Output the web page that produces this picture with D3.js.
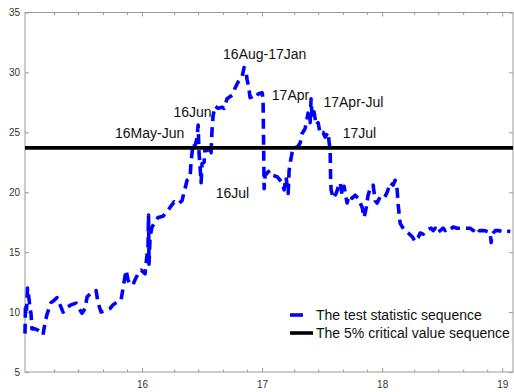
<!DOCTYPE html>
<html>
<head>
<meta charset="utf-8">
<script src="https://cdn.jsdelivr.net/npm/d3@7"></script>
<style>
  html, body { margin: 0; padding: 0; background: #fff; }
  svg { display: block; }
  text { font-family: "Liberation Sans", Arial, sans-serif; }
</style>
</head>
<body>
<svg id="chart" width="514" height="392"></svg>
<script>
// Time axis in decimal years (two-digit year, e.g. 16.5 = mid-2016)
const years = [
  15.025, 15.029, 15.038, 15.046, 15.054, 15.067, 15.075, 15.083, 15.108, 15.133,
  15.158, 15.175, 15.192, 15.208, 15.225, 15.242, 15.258, 15.292, 15.317, 15.342,
  15.375, 15.408, 15.450, 15.475, 15.500, 15.525, 15.542, 15.575, 15.617, 15.633,
  15.658, 15.683, 15.708, 15.733, 15.758, 15.800, 15.825, 15.842, 15.867, 15.883,
  15.900, 15.925, 15.942, 15.967, 15.992, 16.025, 16.050, 16.054, 16.058, 16.067,
  16.083, 16.108, 16.133, 16.175, 16.217, 16.267, 16.300, 16.333, 16.358, 16.375,
  16.400, 16.408, 16.425, 16.442, 16.458, 16.467, 16.475, 16.483, 16.492, 16.500,
  16.517, 16.525, 16.542, 16.550, 16.567, 16.575, 16.583, 16.592, 16.608, 16.633,
  16.667, 16.683, 16.708, 16.750, 16.775, 16.800, 16.833, 16.850, 16.867, 16.875,
  16.888, 16.900, 16.925, 16.950, 16.967, 17.000, 17.008, 17.017, 17.025, 17.050,
  17.067, 17.092, 17.125, 17.150, 17.167, 17.183, 17.200, 17.217, 17.225, 17.233,
  17.250, 17.267, 17.292, 17.317, 17.333, 17.358, 17.383, 17.400, 17.408, 17.417,
  17.433, 17.450, 17.467, 17.483, 17.508, 17.525, 17.550, 17.558, 17.567, 17.571,
  17.575, 17.592, 17.617, 17.633, 17.650, 17.667, 17.683, 17.708, 17.725, 17.750,
  17.775, 17.800, 17.833, 17.850, 17.867, 17.883, 17.900, 17.925, 17.942, 17.958,
  17.983, 18.017, 18.042, 18.067, 18.092, 18.108, 18.125, 18.133, 18.150, 18.175,
  18.192, 18.217, 18.250, 18.275, 18.300, 18.317, 18.342, 18.358, 18.383, 18.408,
  18.425, 18.442, 18.458, 18.483, 18.508, 18.525, 18.550, 18.567, 18.592, 18.625,
  18.667, 18.692, 18.733, 18.758, 18.783, 18.808, 18.850, 18.883, 18.900, 18.908,
  18.917, 18.942, 18.975, 19.000, 19.033, 19.067
];

// Test statistic sequence
const testStat = [
  8.2, 10.7, 10.2, 12.0, 11.5, 10.3, 9.9, 8.6, 8.6, 8.5,
  8.3, 8.1, 9.1, 9.8, 10.3, 10.8, 10.9, 11.2, 10.6, 10.0,
  10.4, 10.6, 10.75, 10.3, 9.9, 10.3, 11.25, 11.6, 11.8, 10.8,
  10.0, 10.1, 10.2, 10.3, 10.6, 10.9, 11.0, 12.0, 13.5, 12.7,
  12.3, 12.3, 12.7, 13.2, 13.5, 13.2, 15.6, 18.1, 14.0, 16.3,
  17.1, 17.5, 17.9, 18.0, 18.5, 19.2, 19.0, 19.3, 20.3, 21.0,
  21.2, 22.5, 24.1, 23.9, 24.5, 25.6, 23.25, 22.2, 20.8, 22.4,
  22.5, 23.7, 23.6, 23.3, 23.5, 23.3, 25.2, 26.4, 27.2, 27.0,
  27.1, 27.0, 27.8, 28.1, 28.7, 29.2, 29.6, 30.4, 30.0, 29.4,
  28.8, 27.9, 28.0, 27.9, 28.2, 28.3, 27.8, 20.3, 21.4, 21.7,
  21.8, 21.4, 21.3, 21.0, 20.75, 20.2, 21.25, 19.9, 21.8, 22.4,
  23.3, 23.75, 23.75, 24.1, 24.9, 25.3, 26.6, 25.8, 27.8, 26.2,
  26.7, 25.6, 25.8, 24.9, 25.0, 24.6, 25.0, 24.2, 23.5, 21.0,
  20.2, 19.5, 19.9, 20.4, 20.8, 19.75, 20.5, 19.1, 19.75, 19.5,
  19.75, 19.5, 18.75, 17.9, 18.7, 19.75, 20.3, 20.6, 19.3, 19.1,
  19.6, 19.5, 20.0, 20.8, 20.6, 21.0, 20.2, 19.0, 17.4, 17.0,
  16.8, 16.6, 16.3, 15.9, 16.2, 16.6, 16.5, 16.7, 16.9, 17.0,
  16.8, 17.0, 16.6, 16.8, 17.0, 16.8, 17.0, 16.9, 17.1, 17.0,
  17.0, 17.0, 17.0, 16.8, 17.1, 16.8, 16.8, 16.7, 16.6, 15.8,
  16.5, 16.8, 16.8, 16.7, 16.8, 16.7
];

// 5% critical value (constant)
const criticalValue = 23.7;

const xTicks = [16, 17, 18, 19];
const yTicks = [5, 10, 15, 20, 25, 30, 35];
const minorOffsets = [0.267, 0.467, 0.675, 0.875];

// Period annotations: label text and anchor (year, value)
const labelTexts = ["16Aug-17Jan", "16Jun", "16May-Jun", "17Apr", "17Apr-Jul", "17Jul", "16Jul"];
const labelYears = [16.675, 16.261, 15.775, 17.081, 17.511, 17.672, 16.614];
const labelValues = [31.1, 26.3, 24.55, 27.7, 27.15, 24.5, 19.5];

const legendTexts = ["The test statistic sequence", "The 5% critical value sequence"];

// ---- layout ----
const svg = d3.select("#chart");
const W = 514, H = 392;
const m = { left: 25, right: 1, top: 12.5, bottom: 20 };
const x = d3.scaleLinear().domain([15.025, 19.09]).range([m.left, W - m.right]);
const y = d3.scaleLinear().domain([5, 35]).range([H - m.bottom, m.top]);

const axisColor = "#9a9a9a";
const textColor = "#333";

// minor ticks list
const minorTicks = [];
[15, 16, 17, 18].forEach(yr => minorOffsets.forEach(o => {
  const v = yr + o;
  if (v > x.domain()[0] && v < x.domain()[1]) minorTicks.push(v);
}));

// plot box
const gBox = svg.append("g");
gBox.append("rect")
  .attr("x", x.range()[0]).attr("y", y.range()[1])
  .attr("width", x.range()[1] - x.range()[0])
  .attr("height", y.range()[0] - y.range()[1])
  .attr("fill", "none").attr("stroke", axisColor).attr("stroke-width", 1);

// Axes with inward ticks
function styleAxis(g) {
  g.select(".domain").remove();
  g.selectAll(".tick line").attr("stroke", axisColor);
  g.selectAll(".tick text").attr("fill", textColor).style("font-size", "10px");
}

const xBottom = svg.append("g").attr("transform", `translate(0,${y.range()[0]})`)
  .call(d3.axisBottom(x).tickValues(xTicks).tickFormat(d3.format("d")).tickSizeInner(-4).tickPadding(9));
styleAxis(xBottom);
const xBottomMinor = svg.append("g").attr("transform", `translate(0,${y.range()[0]})`)
  .call(d3.axisBottom(x).tickValues(minorTicks).tickFormat("").tickSizeInner(-2.5));
styleAxis(xBottomMinor);

const xTop = svg.append("g").attr("transform", `translate(0,${y.range()[1]})`)
  .call(d3.axisTop(x).tickValues(xTicks).tickFormat("").tickSizeInner(-4));
styleAxis(xTop);
const xTopMinor = svg.append("g").attr("transform", `translate(0,${y.range()[1]})`)
  .call(d3.axisTop(x).tickValues(minorTicks).tickFormat("").tickSizeInner(-2.5));
styleAxis(xTopMinor);

const yLeft = svg.append("g").attr("transform", `translate(${x.range()[0]},0)`)
  .call(d3.axisLeft(y).tickValues(yTicks).tickFormat(d3.format("d")).tickSizeInner(-4).tickPadding(5));
styleAxis(yLeft);
const yRight = svg.append("g").attr("transform", `translate(${x.range()[1]},0)`)
  .call(d3.axisRight(y).tickValues(yTicks).tickFormat("").tickSizeInner(-4));
styleAxis(yRight);

// test statistic line
const series = years.map((t, i) => ({ t, v: testStat[i] }));
const line = d3.line().x(d => x(d.t)).y(d => y(d.v));
svg.append("path")
  .datum(series)
  .attr("d", line)
  .attr("fill", "none")
  .attr("stroke", "#0000ff")
  .attr("stroke-width", 3.6)
  .attr("stroke-dasharray", "10,6")
  .attr("stroke-linejoin", "round");

// critical value line
svg.append("line")
  .attr("x1", x.range()[0]).attr("x2", x.range()[1])
  .attr("y1", y(criticalValue)).attr("y2", y(criticalValue))
  .attr("stroke", "#000").attr("stroke-width", 3.6);

// annotations
svg.append("g").selectAll("text")
  .data(labelTexts)
  .join("text")
  .attr("x", (d, i) => x(labelYears[i]))
  .attr("y", (d, i) => y(labelValues[i]))
  .attr("fill", "#111")
  .style("font-size", "14px")
  .text(d => d);

// legend
const lg = svg.append("g");
const lx0 = 290, lx1 = 313, ly0 = 315, ly1 = 333;
lg.append("line").attr("x1", lx0).attr("x2", lx1).attr("y1", ly0).attr("y2", ly0)
  .attr("stroke", "#0000ff").attr("stroke-width", 3.6).attr("stroke-dasharray", "13,20");
lg.append("line").attr("x1", lx0).attr("x2", lx1).attr("y1", ly1).attr("y2", ly1)
  .attr("stroke", "#000").attr("stroke-width", 3.6);
lg.selectAll("text").data(legendTexts).join("text")
  .attr("x", 316)
  .attr("y", (d, i) => (i === 0 ? ly0 : ly1) + 5)
  .attr("fill", "#111")
  .style("font-size", "14px")
  .text(d => d);
</script>
</body>
</html>
